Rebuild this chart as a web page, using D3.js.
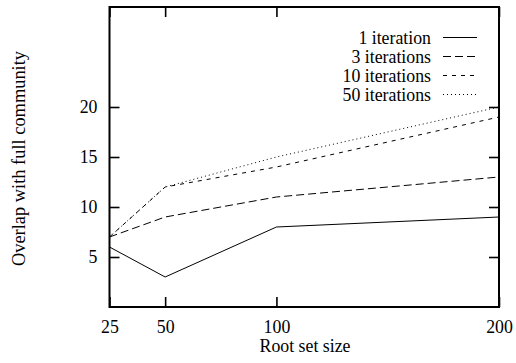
<!DOCTYPE html>
<html>
<head>
<meta charset="utf-8">
<script src="https://cdn.jsdelivr.net/npm/d3@7"></script>
<style>
  html, body { margin: 0; padding: 0; background: #fff; }
  svg text { font-family: "Liberation Serif", "Times New Roman", serif; font-size: 17.8px; fill: #000; }
</style>
</head>
<body>
<svg id="chart" width="516" height="363"></svg>
<script>
// Root set sizes on the x axis
const rootSizes = [25, 50, 100, 200];
// Overlap with the full community for each iteration count
const iter1 = [6, 3, 8, 9];
const iter3 = [7, 9, 11, 13];
const iter10 = [7, 12, 14, 19];
const iter50 = [7, 12, 15, 20];
const seriesNames = ["1 iteration", "3 iterations", "10 iterations", "50 iterations"];
const seriesValues = [iter1, iter3, iter10, iter50];
const xTicks = [25, 50, 100, 200];
const yTicks = [5, 10, 15, 20];
const dashes = [null, "8,4", "4,5", "1,3"];

const svg = d3.select("#chart");
const plotL = 109.5, plotR = 499, plotT = 7, plotB = 307;

const x = d3.scaleLinear().domain([25, 200]).range([plotL, plotR]);
const y = d3.scaleLinear().domain([0, 30]).range([plotB, plotT]);
const tickLen = 10;

// Data lines
const line = d3.line().x((d, i) => x(rootSizes[i])).y(d => y(d));
seriesValues.forEach((vals, k) => {
  svg.append("path")
    .datum(vals)
    .attr("d", line)
    .attr("fill", "none")
    .attr("stroke", "#000")
    .attr("stroke-width", 1)
    .attr("stroke-dasharray", dashes[k]);
});

// Bottom axis with inward ticks
const xAxisB = d3.axisBottom(x).tickValues(xTicks).tickSize(-tickLen).tickPadding(14).tickFormat(d3.format("d"));
const gxb = svg.append("g").attr("transform", `translate(0,${plotB})`).call(xAxisB);
// Top mirror ticks
const xAxisT = d3.axisTop(x).tickValues(xTicks).tickSize(-tickLen).tickFormat("");
const gxt = svg.append("g").attr("transform", `translate(0,${plotT})`).call(xAxisT);
// Left axis
const yAxisL = d3.axisLeft(y).tickValues(yTicks).tickSize(-tickLen).tickPadding(12).tickFormat(d3.format("d"));
const gyl = svg.append("g").attr("transform", `translate(${plotL},0)`).call(yAxisL);
// Right mirror ticks
const yAxisR = d3.axisRight(y).tickValues(yTicks).tickSize(-tickLen).tickFormat("");
const gyr = svg.append("g").attr("transform", `translate(${plotR},0)`).call(yAxisR);

[gxb, gxt, gyl, gyr].forEach(g => {
  g.select(".domain").remove();
  g.selectAll(".tick line").attr("stroke", "#000").attr("stroke-width", 1.6);
  g.selectAll("text").attr("fill", "#000");
  g.attr("font-family", null).attr("font-size", null);
});
gxb.selectAll(".tick text").attr("dy", "0.71em").attr("y", 13);

// Plot border
svg.append("rect")
  .attr("x", plotL).attr("y", plotT)
  .attr("width", plotR - plotL).attr("height", plotB - plotT)
  .attr("fill", "none").attr("stroke", "#000").attr("stroke-width", 2);

// Legend
const legY = [37.5, 56.5, 75.5, 94.5];
seriesNames.forEach((name, k) => {
  svg.append("text")
    .attr("x", 431).attr("y", legY[k])
    .attr("text-anchor", "end")
    .attr("dy", "0.35em")
    .text(name);
  svg.append("line")
    .attr("x1", 443).attr("x2", 477)
    .attr("y1", legY[k]).attr("y2", legY[k])
    .attr("stroke", "#000").attr("stroke-width", 1)
    .attr("stroke-dasharray", dashes[k]);
});

// Axis titles
svg.append("text")
  .attr("x", 305).attr("y", 352)
  .attr("text-anchor", "middle")
  .text("Root set size");
svg.append("text")
  .attr("transform", "translate(25,158.5) rotate(-90)")
  .attr("text-anchor", "middle")
  .style("font-size", "18.4px")
  .text("Overlap with full community");
</script>
</body>
</html>
